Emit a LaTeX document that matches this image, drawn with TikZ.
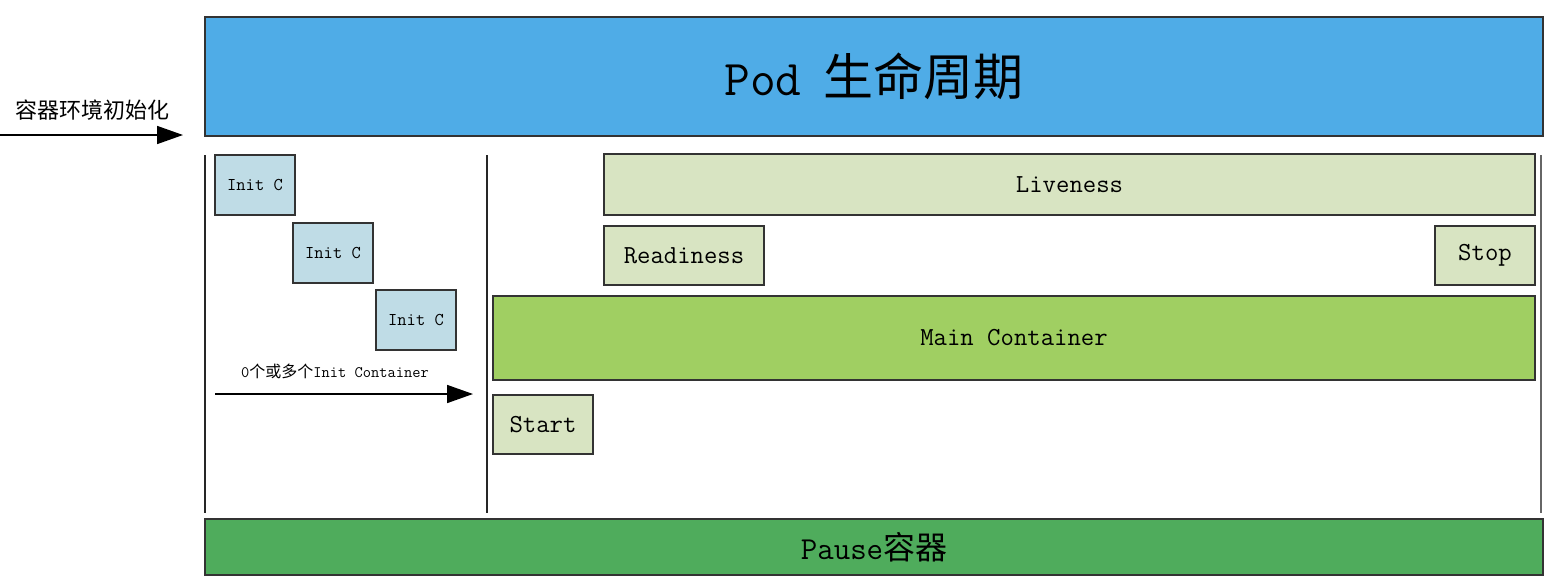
\documentclass[tikz,border=0pt]{standalone}
\usepackage{fontspec}
\newfontfamily\cjk{Noto Sans CJK SC}
\usetikzlibrary{arrows.meta}

\definecolor{podblue}{RGB}{79,172,231}
\definecolor{initblue}{RGB}{191,220,230}
\definecolor{probegreen}{RGB}{216,228,194}
\definecolor{maingreen}{RGB}{160,207,98}
\definecolor{pausegreen}{RGB}{79,172,92}

\tikzset{
  stage/.style={draw=black!80, line width=1.2pt, inner sep=0pt, outer sep=0pt, anchor=north west},
  probe/.style={stage, fill=probegreen, font=\ttfamily\fontsize{26}{28}\selectfont},
  initc/.style={stage, fill=initblue, minimum width=80pt, minimum height=60pt, font=\ttfamily\fontsize{18}{20}\selectfont},
  phaseline/.style={line width=1.8pt, black!85},
  bigarrow/.style={line width=1.6pt, -{Triangle[length=26pt,width=18pt]}}
}

\begin{document}
\begin{tikzpicture}[x=1pt,y=-1pt]
    \useasboundingbox (0,0) rectangle (1544,584);

    % --------------------------------------------------------- %
    % ------------- Pod lifecycle (top bar)
    % --------------------------------------------------------- %
    \node[stage, fill=podblue, minimum width=1338pt, minimum height=119pt] (pod) at (205,17) {{\ttfamily\fontsize{50}{52}\selectfont Pod}\hspace{22pt}{\cjk\fontsize{50}{52}\selectfont 生命周期}};
    % --- environment init arrow
    \coordinate (envstart) at (0,135);
    \node[font=\cjk\fontsize{22}{24}\selectfont] (envtext) at (92,110) {容器环境初始化};
    \draw[bigarrow, shorten >=22pt] (envstart) -- (envstart -| pod.south west);

    % --------------------------------------------------------- %
    % ------------ Phase borders
    % --------------------------------------------------------- %
    \coordinate (leftTop) at (205,155);
    \coordinate (leftBot) at (205,513);
    \coordinate (midTop) at (487,155);
    \coordinate (midBot) at (487,513);
    \coordinate (rightTop) at (1541,155);
    \coordinate (rightBot) at (1541,513);
    \draw[phaseline] (leftTop) -- (leftBot);
    \draw[phaseline] (midTop) -- (midBot);
    \draw[line width=1.2pt, black!60] (rightTop) -- (rightBot);

    % --------------------------------------------------------- %
    % ------------ Init containers
    % --------------------------------------------------------- %
    \node[initc] (init1) at (215,155) {Init C};
    \node[initc] (init2) at (293,223) {Init C};
    \node[initc] (init3) at (376,290) {Init C};
    % --- init arrow
    \coordinate (initstart) at (215,394);
    \coordinate (initend) at (473,394);
    \node[font=\fontsize{16}{18}\selectfont] (inittext) at (335,371) {{\ttfamily 0}{\cjk 个或多个}{\ttfamily Init Container}};
    \draw[bigarrow] (initstart) -- (initend);

    % --------------------------------------------------------- %
    % ------------ Main container and probes
    % --------------------------------------------------------- %
    \node[probe, minimum width=931pt, minimum height=61pt] (liveness) at (604,154) {Liveness};
    \node[probe, minimum width=160pt, minimum height=59pt] (readiness) at (604,226) {Readiness};
    \node[probe, minimum width=100pt, minimum height=59pt] (stop) at (1435,226) {Stop};
    \node[probe, fill=maingreen, minimum width=1042pt, minimum height=84pt] (main) at (493,296) {Main Container};
    \node[probe, minimum width=100pt, minimum height=59pt] (start) at (493,395) {Start};

    % --------------------------------------------------------- %
    % ------------ Pause container
    % --------------------------------------------------------- %
    \node[stage, fill=pausegreen, minimum width=1338pt, minimum height=56pt] (pause) at (205,519) {{\ttfamily\fontsize{32}{34}\selectfont Pause}{\cjk\fontsize{32}{34}\selectfont 容器}};

\end{tikzpicture}
\end{document}
